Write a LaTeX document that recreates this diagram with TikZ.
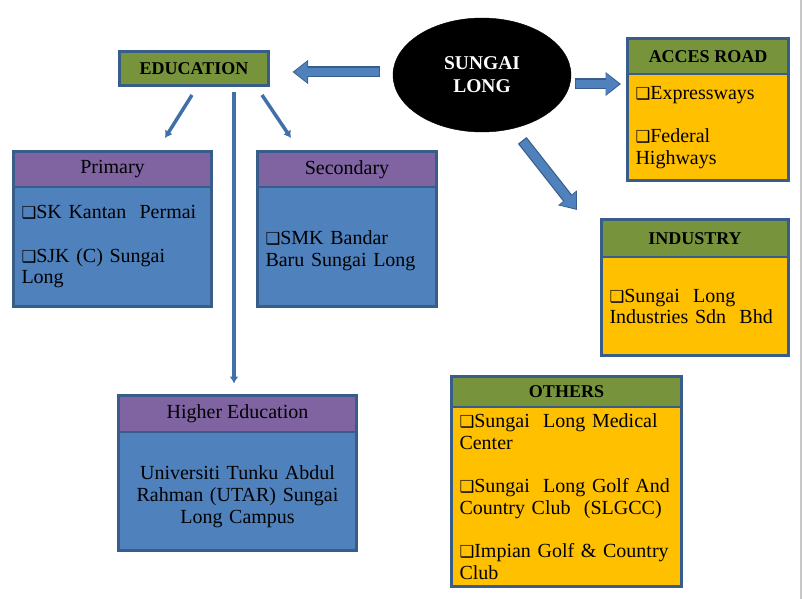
\documentclass[tikz,border=0pt]{standalone}
\usepackage{fontspec}
\setmainfont{Liberation Serif}
\newfontfamily\bulfont{DejaVu Sans}
\usetikzlibrary{arrows.meta,positioning,shapes.geometric}

\definecolor{bord}{HTML}{385D8A}
\definecolor{hgreen}{HTML}{77933C}
\definecolor{hpurple}{HTML}{8064A2}
\definecolor{bblue}{HTML}{4F81BD}
\definecolor{borange}{HTML}{FFC000}
\definecolor{lineblue}{HTML}{4170A8}

\newcommand{\bul}{{\bulfont\fontsize{16.5}{16}\selectfont\char"2751}}

\tikzset{
  box/.style={draw=bord, line width=2.6pt, inner sep=0pt, outer sep=0pt, anchor=north west},
  hdgreen/.style={box, fill=hgreen, font=\fontsize{18}{20}\selectfont\bfseries},
  hdpurple/.style={box, fill=hpurple, font=\fontsize{20}{22}\selectfont},
  bodyblue/.style={box, fill=bblue, align=left, inner xsep=8pt, font=\fontsize{20}{21.5}\selectfont},
  bodyorange/.style={bodyblue, fill=borange},
  hub/.style={ellipse, fill=black, draw=black, text=white, align=center, inner sep=0pt,
    minimum width=178pt, minimum height=114pt, font=\fontsize{19.5}{23}\selectfont\bfseries},
  fatout/.style={draw=bord, line width=11pt, -{Triangle[width=23pt,length=15.5pt]}},
  fatin/.style={draw=bblue, line width=8.6pt, -{Triangle[width=20pt,length=13.2pt]}},
  thinarr/.style={draw=lineblue, line width=3.5pt, -{Latex[length=7pt,width=9pt]}}
}

\begin{document}
\begin{tikzpicture}[x=1pt, y=-1pt]
\useasboundingbox (0,0) rectangle (803,599);

% centre
\node[hub] (sl) at (482,75) {SUNGAI\\LONG};

% education
\node[hdgreen, minimum width=149pt, minimum height=34pt] (edu) at (119.5,51.5) {EDUCATION};
\node[hdpurple, minimum width=198pt, minimum height=35.5pt] (pri) at (13.5,151.5) {Primary};
\node[bodyblue, minimum width=198pt, minimum height=119.5pt, text width=182pt] (prib) at (pri.south west)
  {\bul SK Kantan~ Permai\\[22pt]\bul SJK (C) Sungai\\Long};
\node[hdpurple, minimum width=179pt, minimum height=35.5pt] (sec) at (257.5,151.5) {Secondary};
\node[bodyblue, minimum width=179pt, minimum height=119.5pt, text width=163pt] (secb) at (sec.south west)
  {\rule{0pt}{22pt}\bul SMK Bandar\\Baru Sungai Long};
\node[hdpurple, minimum width=238pt, minimum height=36.5pt] (hi) at (118.5,395.5) {Higher Education};
\node[bodyblue, minimum width=238pt, minimum height=118.5pt, text width=222pt, align=center, font=\fontsize{20}{22}\selectfont] (hib) at (hi.south west)
  {\rule{0pt}{24pt}Universiti Tunku Abdul\\Rahman (UTAR) Sungai\\Long Campus};

% right side
\node[hdgreen, minimum width=161pt, minimum height=35.5pt] (acc) at (627.5,38.5) {ACCES ROAD};
\node[bodyorange, minimum width=161pt, minimum height=106.5pt, text width=145pt] (accb) at (acc.south west)
  {\bul Expressways\\[22pt]\bul Federal\\Highways};
\node[hdgreen, minimum width=187pt, minimum height=37.5pt] (ind) at (601.5,219.5) {INDUSTRY};
\node[bodyorange, minimum width=187pt, minimum height=98.5pt, text width=171pt] (indb) at (ind.south west)
  {\bul Sungai~ Long\\Industries Sdn~ Bhd};
\node[hdgreen, minimum width=230pt, minimum height=30.5pt] (oth) at (451.5,376.5) {OTHERS};
\node[bodyorange, minimum width=230pt, minimum height=179.5pt, text width=214pt] (othb) at (oth.south west)
  {\bul Sungai~ Long Medical\\Center\\[22pt]\bul Sungai~ Long Golf And\\Country Club~ (SLGCC)\\[22pt]\bul Impian Golf \& Country\\Club};

% block arrows
\coordinate (la) at ([yshift=3pt]sl.west);
\draw[fatout, shorten <=13pt, shorten >=24pt] (la) -- (la -| edu.east);
\draw[fatin, shorten <=14.2pt, shorten >=25.6pt] (la) -- (la -| edu.east);
\coordinate (ra) at ([yshift=-9pt]sl.east);
\draw[fatout, shorten <=4pt, shorten >=6.5pt] (ra) -- (ra -| acc.west);
\draw[fatin, shorten <=5.2pt, shorten >=8.1pt] (ra) -- (ra -| acc.west);
\coordinate (indtip) at (577,210);
\draw[fatout, shorten <=15pt] (sl.-60) -- (indtip);
\draw[fatin, shorten <=16.2pt, shorten >=1.6pt] (sl.-60) -- (indtip);

% thin arrows
\coordinate (prit) at (165,138);
\coordinate (sect) at (291,138);
\coordinate (vt) at ([xshift=40pt]edu.south);
\draw[thinarr] ([xshift=-2pt,yshift=-9.5pt]edu.south) -- (prit);
\draw[thinarr] ([xshift=68pt,yshift=-9.5pt]edu.south) -- (sect);
\draw[thinarr, shorten <=7pt, shorten >=12pt] (vt) -- (vt |- hi.north);

% slide edge
\draw[gray!45, line width=1.5pt] (801,0) -- (801,599);
\end{tikzpicture}
\end{document}
